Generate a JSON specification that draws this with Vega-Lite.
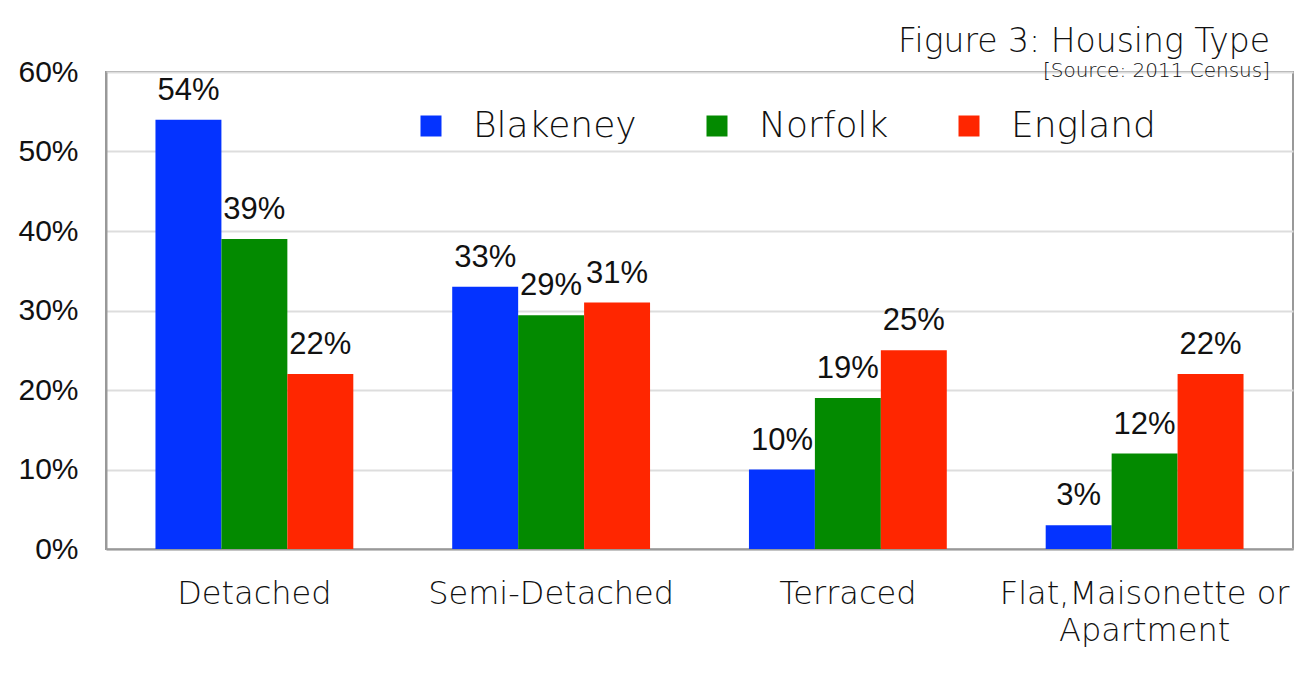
{
  "$schema": "https://vega.github.io/schema/vega-lite/v6.json",
  "width": 1187,
  "height": 477,
  "autosize": {"type": "none"},
  "padding": {"left": 106, "top": 72, "right": 6, "bottom": 129},
  "background": "white",
  "title": {
    "text": "Figure 3: Housing Type",
    "subtitle": "[Source: 2011 Census]",
    "anchor": "end",
    "frame": "group",
    "dx": -23,
    "offset": -24,
    "font": "DejaVu Sans",
    "fontSize": 33,
    "fontWeight": 300,
    "color": "#111111",
    "subtitleFont": "DejaVu Sans",
    "subtitleFontSize": 20,
    "subtitleFontWeight": 300,
    "subtitleColor": "#111111",
    "subtitlePadding": 2
  },
  "data": {
    "values": [
      {"type": "Detached", "area": "Blakeney", "value": 54, "label": "54%"},
      {"type": "Detached", "area": "Norfolk", "value": 39, "label": "39%"},
      {"type": "Detached", "area": "England", "value": 22, "label": "22%"},
      {"type": "Semi-Detached", "area": "Blakeney", "value": 33, "label": "33%"},
      {"type": "Semi-Detached", "area": "Norfolk", "value": 29.4, "label": "29%"},
      {"type": "Semi-Detached", "area": "England", "value": 31, "label": "31%"},
      {"type": "Terraced", "area": "Blakeney", "value": 10, "label": "10%"},
      {"type": "Terraced", "area": "Norfolk", "value": 19, "label": "19%"},
      {"type": "Terraced", "area": "England", "value": 25, "label": "25%"},
      {"type": "Flat,Maisonette or Apartment", "area": "Blakeney", "value": 3, "label": "3%"},
      {"type": "Flat,Maisonette or Apartment", "area": "Norfolk", "value": 12, "label": "12%"},
      {"type": "Flat,Maisonette or Apartment", "area": "England", "value": 22, "label": "22%"}
    ]
  },
  "encoding": {
    "x": {
      "field": "type",
      "type": "nominal",
      "sort": null,
      "scale": {"paddingInner": 0.3333, "paddingOuter": 0.1667},
      "axis": {
        "title": null,
        "labelAngle": 0,
        "labelFont": "DejaVu Sans",
        "labelFontWeight": 300,
        "labelFontSize": 32,
        "labelColor": "#111111",
        "labelPadding": 29,
        "labelLineHeight": 37,
        "labelBaseline": "top",
        "labelLimit": 0,
        "labelOverlap": false,
        "ticks": false,
        "domain": true,
        "domainColor": "#999999",
        "domainWidth": 2,
        "labelExpr": "datum.label == 'Flat,Maisonette or Apartment' ? ['Flat,Maisonette or', 'Apartment'] : datum.label"
      }
    },
    "xOffset": {"field": "area", "type": "nominal", "sort": ["Blakeney", "Norfolk", "England"], "scale": {"paddingInner": 0, "paddingOuter": 0}},
    "y": {
      "field": "value",
      "type": "quantitative",
      "scale": {"domain": [0, 60], "nice": false},
      "axis": {
        "title": null,
        "values": [0, 10, 20, 30, 40, 50, 60],
        "labelExpr": "datum.value + '%'",
        "labelFont": "Liberation Sans",
        "labelFontSize": 30,
        "labelColor": "#111111",
        "labelPadding": 28,
        "ticks": false,
        "domain": true,
        "domainColor": "#999999",
        "domainWidth": 2,
        "grid": true,
        "gridColor": "#dddddd",
        "gridWidth": 2
      }
    }
  },
  "layer": [
    {
      "mark": {"type": "bar"},
      "encoding": {
        "color": {
          "field": "area",
          "type": "nominal",
          "sort": ["Blakeney", "Norfolk", "England"],
          "scale": {"domain": ["Blakeney", "Norfolk", "England"], "range": ["#0433ff", "#038a00", "#ff2600"]},
          "legend": {
            "title": null,
            "orient": "none",
            "direction": "horizontal",
            "legendX": 307,
            "legendY": 36,
            "symbolType": "square",
            "symbolSize": 441,
            "symbolStrokeWidth": 0,
            "labelFont": "DejaVu Sans",
            "labelFontWeight": 300,
            "labelFontSize": 36,
            "labelColor": "#111111",
            "labelOffset": 24,
            "columnPadding": 62,
            "labelLimit": 400
          }
        }
      }
    },
    {
      "mark": {"type": "text", "dy": -20, "baseline": "alphabetic", "font": "Liberation Sans", "fontSize": 31, "color": "#111111"},
      "encoding": {"text": {"field": "label"}}
    }
  ],
  "config": {
    "view": {"stroke": "#999999", "strokeWidth": 2},
    "bar": {"stroke": null}
  }
}
